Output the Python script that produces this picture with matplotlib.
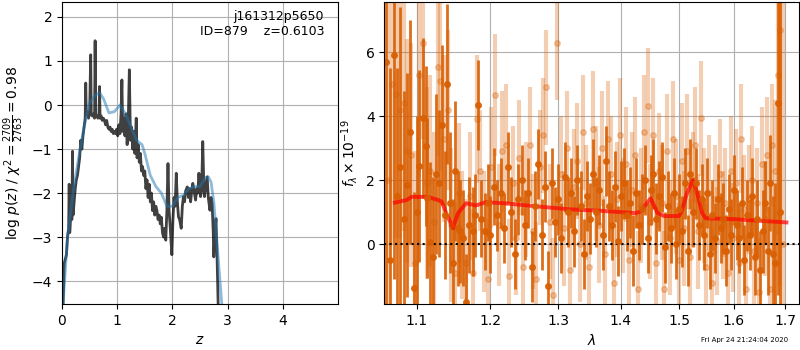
import matplotlib
matplotlib.use('Agg')
import matplotlib.pyplot as plt
from matplotlib.ticker import NullLocator

# p(z) 曲线
z_grid = [0.02, 0.04, 0.06, 0.08, 0.10, 0.12, 0.13, 0.14, 0.16, 0.18, 0.19, 0.20, 0.22, 0.24, 0.26, 0.28,
          0.30, 0.32, 0.34, 0.36, 0.38, 0.40, 0.42, 0.43, 0.44, 0.46, 0.48, 0.50, 0.52, 0.53, 0.55, 0.57,
          0.59, 0.60, 0.61, 0.63, 0.65, 0.67, 0.68, 0.69, 0.71, 0.73, 0.75, 0.77, 0.79, 0.81, 0.83, 0.85,
          0.87, 0.89, 0.91, 0.93, 0.95, 0.97, 0.99, 1.01, 1.03, 1.05, 1.07, 1.085, 1.10, 1.12, 1.14, 1.16,
          1.18, 1.20, 1.22, 1.24, 1.26, 1.28, 1.30, 1.32, 1.345, 1.36, 1.38, 1.40, 1.42, 1.44, 1.46, 1.48,
          1.50, 1.52, 1.54, 1.56, 1.58, 1.60, 1.62, 1.64, 1.66, 1.68, 1.70, 1.72, 1.74, 1.76, 1.78, 1.80,
          1.82, 1.84, 1.86, 1.88, 1.90, 1.92, 1.94, 1.96, 1.98, 1.99, 2.01, 2.03, 2.05, 2.07, 2.09, 2.11,
          2.13, 2.16, 2.18, 2.20, 2.22, 2.24, 2.27, 2.29, 2.31, 2.33, 2.35, 2.37, 2.40, 2.42, 2.44, 2.46,
          2.48, 2.51, 2.53, 2.55, 2.57, 2.58, 2.60, 2.63, 2.65, 2.68, 2.70, 2.72, 2.74, 2.75, 2.77, 2.79,
          2.81, 2.83]
logp_fit = [-4.5, -3.6, -3.5, -3.4, -3.0, -2.8, -1.8, -2.9, -2.5, -2.6, -1.05, -2.5, -2.2, -1.9, -1.7, -1.6,
            -1.4, -1.2, -0.8, -1.0, -0.7, -0.5, -0.3, 0.5, -0.2, -0.15, -0.3, -0.2, 1.14, -0.2, -0.25, -0.2,
            -0.3, 1.46, -0.2, -0.25, -0.3, -0.25, 0.42, -0.3, -0.25, -0.35, -0.3, -0.35, -0.45, -0.35, -0.5, -0.55,
            -0.5, -0.6, -0.55, -0.65, -0.6, -0.65, -0.55, -0.7, -0.45, -0.65, -0.2, 0.57, -0.6, -0.3, -0.7, -0.2,
            -0.9, -0.4, 0.8, -0.8, -0.5, -1.0, -0.6, -1.1, -0.3, -1.2, -0.9, -1.3, -1.1, -1.5, -1.4, -1.6,
            -1.5, -1.9, -1.7, -2.1, -1.8, -2.2, -2.0, -2.4, -2.2, -2.5, -2.3, -2.4, -2.6, -2.5, -2.7, -2.55,
            -2.9, -3.0, -2.8, -3.07, -2.4, -1.33, -2.4, -2.77, -3.2, -3.4, -2.6, -2.1, -2.3, -1.55, -2.2, -2.54,
            -2.6, -2.8, -2.3, -2.08, -2.2, -1.95, -1.86, -2.1, -1.9, -2.2, -1.95, -1.78, -2.0, -2.16, -1.9, -2.0,
            -1.55, -2.08, -1.9, -0.83, -1.9, -2.08, -1.9, -1.63, -2.1, -2.39, -2.1, -2.24, -2.9, -3.45, -2.9, -2.58,
            -3.5, -4.6]

z_smooth = [0.02, 0.1, 0.2, 0.3, 0.4, 0.5, 0.6, 0.68, 0.75, 0.85, 0.95, 1.05, 1.15, 1.25, 1.35, 1.45,
            1.5, 1.6, 1.7, 1.8, 1.9, 2.0, 2.1, 2.2, 2.3, 2.4, 2.5, 2.6, 2.65, 2.7, 2.75, 2.8, 2.85, 2.9]
logp_smooth = [-4.5, -3.0, -2.0, -1.2, -0.5, 0.05, 0.22, 0.28, 0.15, -0.18, -0.15, 0.0, -0.2, -0.5, -0.8, -0.9,
               -1.1, -1.6, -1.85, -2.0, -2.3, -2.3, -2.1, -2.05, -1.9, -1.85, -1.85, -1.65, -1.63, -1.75, -2.2,
               -3.0, -3.8, -4.6]

# 光谱 1 (深色)
wave_a = [1.061, 1.066, 1.071, 1.075, 1.079, 1.083, 1.087, 1.091, 1.096, 1.100, 1.103, 1.108, 1.112, 1.114,
          1.118, 1.122, 1.126, 1.129, 1.133, 1.137, 1.140, 1.144, 1.148, 1.151, 1.155, 1.158, 1.162, 1.166,
          1.170, 1.175, 1.179, 1.182, 1.187, 1.192, 1.196, 1.200, 1.205, 1.210, 1.215, 1.220, 1.225, 1.230,
          1.235, 1.240, 1.245, 1.250, 1.255, 1.260, 1.265, 1.270, 1.275, 1.280, 1.285, 1.290, 1.295, 1.300,
          1.305, 1.310, 1.315, 1.320, 1.325, 1.330, 1.335, 1.340, 1.345, 1.350, 1.355, 1.360, 1.365, 1.370,
          1.375, 1.380, 1.385, 1.390, 1.395, 1.400, 1.405, 1.410, 1.415, 1.420, 1.425, 1.430, 1.435, 1.440,
          1.445, 1.450, 1.455, 1.460, 1.465, 1.470, 1.475, 1.480, 1.485, 1.490, 1.495, 1.500, 1.505, 1.510,
          1.515, 1.520, 1.525, 1.530, 1.535, 1.540, 1.545, 1.550, 1.555, 1.560, 1.565, 1.570, 1.575, 1.580,
          1.585, 1.590, 1.595, 1.600, 1.605, 1.610, 1.615, 1.620, 1.625, 1.630, 1.635, 1.640, 1.645, 1.650,
          1.655, 1.660, 1.665, 1.670, 1.675, 1.680, 1.685, 1.690]
flux_a = [5.7, -0.5, 5.9, 1.5, 2.4, 0.8, 1.85, 3.5, -1.37, 1.0, 2.43, 3.94, 3.07, 1.45,
          0.07, -0.4, 2.2, 1.9, 3.73, 0.9, 5.01, 1.3, -0.6, 2.29, 0.5, 0.4, 0.2, -1.8,
          0.6, 0.4, 0.9, 4.35, 0.8, 0.4, 1.3, 0.3, 1.8, 0.9, 1.6, 0.5, 2.4, 1.0,
          -0.3, 1.4, 2.0, 0.6, 1.6, -0.7, 1.2, 2.5, 0.3, 1.8, -1.3, 1.9, 0.7, 1.4,
          0.2, 2.1, 1.0, 1.6, 0.4, 2.0, 1.2, -0.3, 1.5, 0.8, 2.2, 1.0, 1.7, 0.3,
          2.6, 1.2, 0.6, 1.8, 0.1, 1.5, 1.9, 0.9, 1.3, -0.2, 1.6, 0.6, 1.1, 2.0,
          0.2, 1.7, 2.2, 0.8, 1.5, 2.1, -0.1, 1.2, 0.5, 1.6, 0.0, 1.1, 0.4, 1.9,
          -0.2, 2.2, 1.0, 1.9, 0.6, 1.4, 0.3, 1.6, -0.3, 0.9, 0.2, 1.4, 0.5, 0.8,
          -0.2, 1.1, 0.3, 1.7, 0.6, 0.2, 1.3, -0.5, 0.9, 0.3, 1.5, -0.4, 0.8, -0.8,
          0.4, 1.3, -0.2, 1.9, -0.3, -0.6, 4.4, 1.0]
err_a = [8.0, 6.0, 7.0, 4.0, 5.0, 4.0, 3.5, 3.5, 3.0, 3.0, 3.0, 2.5, 2.5, 2.5,
         2.5, 2.5, 2.5, 2.3, 2.5, 2.0, 2.5, 2.2, 2.0, 2.2, 1.8, 1.6, 1.5, 1.5,
         1.5, 1.4, 1.3, 1.4, 1.2, 1.2, 1.2, 1.2, 1.2, 1.1, 1.1, 1.1, 1.1, 1.1,
         1.1, 1.1, 1.1, 1.1, 1.1, 1.1, 1.1, 1.1, 1.1, 1.1, 1.1, 1.1, 1.1, 1.1,
         1.1, 1.1, 1.1, 1.1, 1.1, 1.1, 1.1, 1.1, 1.1, 1.1, 1.1, 1.1, 1.1, 1.1,
         1.1, 1.1, 1.1, 1.1, 1.1, 1.1, 1.1, 1.1, 1.1, 1.1, 1.1, 1.1, 1.1, 1.1,
         1.1, 1.1, 1.1, 1.1, 1.1, 1.1, 1.1, 1.1, 1.1, 1.1, 1.1, 1.1, 1.1, 1.1,
         1.1, 1.1, 1.1, 1.1, 1.1, 1.1, 1.1, 1.1, 1.1, 1.1, 1.1, 1.1, 1.1, 1.1,
         1.1, 1.1, 1.1, 1.1, 1.1, 1.1, 1.1, 1.1, 1.1, 1.1, 1.2, 1.2, 1.2, 1.2,
         1.3, 1.3, 1.4, 1.5, 1.8, 2.5, 6.0, 8.0]

# 光谱 2 (浅色)
wave_b = [1.063, 1.068, 1.073, 1.078, 1.083, 1.088, 1.093, 1.098, 1.103, 1.108, 1.113, 1.118, 1.123, 1.128,
          1.131, 1.136, 1.141, 1.146, 1.151, 1.156, 1.161, 1.166, 1.171, 1.176, 1.181, 1.186, 1.191, 1.196,
          1.201, 1.207, 1.212, 1.217, 1.222, 1.227, 1.232, 1.237, 1.242, 1.247, 1.252, 1.257, 1.262, 1.267,
          1.272, 1.277, 1.282, 1.287, 1.292, 1.299, 1.304, 1.309, 1.314, 1.319, 1.324, 1.329, 1.334, 1.339,
          1.344, 1.349, 1.354, 1.359, 1.364, 1.369, 1.374, 1.379, 1.384, 1.389, 1.394, 1.399, 1.404, 1.409,
          1.414, 1.419, 1.424, 1.429, 1.434, 1.439, 1.446, 1.449, 1.454, 1.459, 1.464, 1.469, 1.474, 1.479,
          1.484, 1.489, 1.494, 1.499, 1.504, 1.509, 1.514, 1.519, 1.524, 1.529, 1.534, 1.539, 1.544, 1.549,
          1.554, 1.559, 1.564, 1.569, 1.574, 1.579, 1.584, 1.589, 1.594, 1.599, 1.604, 1.609, 1.614, 1.619,
          1.624, 1.629, 1.634, 1.639, 1.644, 1.649, 1.654, 1.659, 1.664, 1.669, 1.674, 1.679, 1.685, 1.690,
          1.695]
flux_b = [2.0, 5.0, 4.7, 4.2, 4.4, 2.9, 2.8, -0.6, 5.3, 6.3, 1.9, 2.3, 0.7, 5.55,
          5.1, 3.3, 4.2, 0.6, -0.9, 1.6, 0.3, -0.6, 1.5, -0.9, 3.9, 2.3, 0.4, -1.1,
          2.4, 4.66, 0.6, 2.9, 3.1, -1.0, 1.9, 0.2, 2.7, -0.7, 1.4, 3.1, 0.4, -1.1,
          2.4, 3.4, 4.9, 0.7, -1.6, 6.3, 2.2, 0.5, 3.0, -0.8, 1.8, 2.6, 0.0, 3.5,
          1.3, -0.7, 3.6, 1.9, 0.6, 3.0, -0.3, 3.3, 2.2, -1.2, 1.4, 3.4, 0.9, 2.5,
          -0.5, 1.7, 2.8, -1.4, 1.2, 3.5, 4.33, 0.7, 3.4, -0.6, 2.3, 1.3, -1.4, 2.9,
          0.2, 3.3, 1.5, -0.5, 2.6, 0.5, 2.9, -0.4, 1.7, 3.1, 0.4, 3.94, 1.2, -0.7,
          1.6, -1.2, 1.4, 0.1, 2.2, 0.6, 1.3, -0.9, 2.3, 0.2, 1.9, -0.6, 3.3, 1.1,
          -1.4, 1.4, 2.0, -0.2, 1.3, -1.5, 2.5, 0.8, 2.8, -1.4, 3.1, 2.3, 5.3, 6.7,
          0.0]
err_b = [6.0, 5.0, 4.5, 4.0, 4.0, 3.5, 3.5, 3.5, 3.2, 3.0, 3.0, 3.0, 2.8, 2.8,
         2.8, 2.6, 2.5, 2.4, 2.2, 2.2, 2.0, 2.0, 2.0, 2.0, 2.0, 1.9, 1.9, 1.9,
         1.9, 1.9, 1.9, 1.9, 1.9, 1.8, 1.8, 1.8, 1.8, 1.8, 1.8, 1.8, 1.8, 1.8,
         1.8, 1.8, 1.8, 1.8, 1.8, 1.8, 1.8, 1.8, 1.8, 1.8, 1.8, 1.8, 1.8, 1.8,
         1.8, 1.8, 1.8, 1.8, 1.8, 1.8, 1.8, 1.8, 1.8, 1.8, 1.8, 1.8, 1.8, 1.8,
         1.8, 1.8, 1.8, 1.8, 1.8, 1.8, 1.8, 1.8, 1.8, 1.8, 1.8, 1.8, 1.8, 1.8,
         1.8, 1.8, 1.8, 1.8, 1.8, 1.8, 1.8, 1.8, 1.8, 1.8, 1.8, 1.8, 1.8, 1.8,
         1.8, 1.7, 1.7, 1.7, 1.7, 1.7, 1.7, 1.7, 1.7, 1.7, 1.7, 1.7, 1.7, 1.7,
         1.7, 1.7, 1.7, 1.7, 1.7, 1.7, 1.8, 1.8, 1.8, 1.8, 1.9, 2.2, 5.0, 8.0,
         8.0]

# 模型
wave_model = [1.072, 1.087, 1.0935, 1.113, 1.126, 1.133, 1.139, 1.148, 1.155, 1.166, 1.1797, 1.193, 1.2205,
              1.2683, 1.3183, 1.3702, 1.4245, 1.433, 1.4415, 1.45, 1.454, 1.462, 1.4735, 1.4994, 1.505,
              1.514, 1.524, 1.532, 1.541, 1.548, 1.6025, 1.7025]
flux_model = [1.30, 1.38, 1.48, 1.48, 1.40, 1.33, 0.97, 0.50, 0.97, 1.28, 1.21, 1.31, 1.28,
              1.18, 1.09, 1.04, 0.97, 1.02, 1.23, 1.43, 1.28, 0.97, 0.88, 0.88, 1.07,
              1.6, 2.0, 1.6, 0.97, 0.81, 0.78, 0.68]

orange = '#d95f02'

fig = plt.figure(figsize=(8, 3.5), dpi=100)
ax1 = fig.add_axes([0.0775, 0.1314, 0.345, 0.8629])
ax2 = fig.add_axes([0.4804, 0.1314, 0.5184, 0.8629])

# 左图
ax1.plot(z_grid, logp_fit, color='k', alpha=0.75, lw=2)
ax1.plot(z_smooth, logp_smooth, color='#1f77b4', alpha=0.5, lw=2)
ax1.set_xlim(0, 5.0)
ax1.set_ylim(-4.52, 2.34)
ax1.set_xticks([0, 1, 2, 3, 4])
ax1.set_yticks([-4, -3, -2, -1, 0, 1, 2])
ax1.grid()
ax1.set_xlabel(r'$z$')
ax1.set_ylabel(r'log $p(z)$ / $\chi^2=\frac{2709}{2763}=0.98$')
ax1.text(0.95, 0.975, 'j161312p5650\nID=879    z=0.6103', ha='right', va='top',
         transform=ax1.transAxes, fontsize=9)

# 右图
ax2.errorbar(wave_b, flux_b, yerr=err_b, color=orange, alpha=0.3, marker='o', ms=4,
             linestyle='None', elinewidth=3)
ax2.errorbar(wave_a, flux_a, yerr=err_a, color=orange, alpha=0.9, marker='o', ms=4,
             linestyle='None', elinewidth=2)
ax2.plot(wave_model, flux_model, color='r', alpha=0.7, lw=2.8)
ax2.axhline(0, color='k', linestyle=':', lw=1.5)
ax2.set_xscale('log')
ax2.set_xlim(1.0587, 1.728)
ax2.set_ylim(-1.87, 7.57)
ax2.set_xticks([1.1, 1.2, 1.3, 1.4, 1.5, 1.6, 1.7])
ax2.set_xticklabels(['1.1', '1.2', '1.3', '1.4', '1.5', '1.6', '1.7'])
ax2.xaxis.set_minor_locator(NullLocator())
ax2.set_yticks([0, 2, 4, 6])
ax2.grid()
ax2.set_xlabel(r'$\lambda$')
ax2.set_ylabel(r'$f_\lambda \times 10^{-19}$')

fig.text(0.985, 0.02, 'Fri Apr 24 21:24:04 2020', ha='right', va='bottom', fontsize=5)

fig.savefig('out.png', dpi=100)
